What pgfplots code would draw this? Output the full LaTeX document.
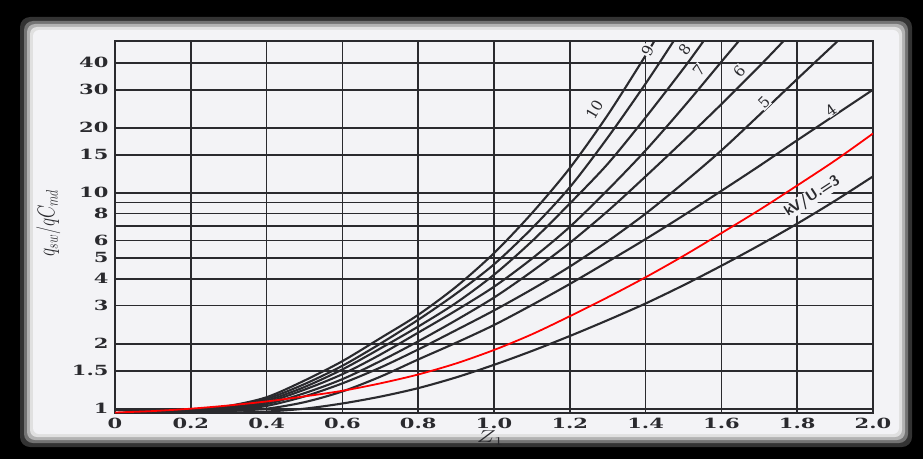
\documentclass[border=0pt]{standalone}
\usepackage{pgfplots}
\pgfplotsset{compat=1.18}
\usepackage{graphicx}
\usepackage{fontspec}
\setmainfont{DejaVu Serif}
\definecolor{paper}{RGB}{243,243,246}
\definecolor{ink}{RGB}{42,42,46}
\newcommand\sx[1]{\scalebox{1.5}[1]{\bfseries #1}}
\begin{document}
\begin{tikzpicture}[x=1pt,y=1pt]
\useasboundingbox (0,0) rectangle (923,459);
\fill[black] (0,0) rectangle (923,459);
\fill[black!80,rounded corners=10pt] (20,12) rectangle (912,442);
\fill[black!55,rounded corners=9pt] (24,16) rectangle (908,438);
\fill[black!30,rounded corners=8pt] (27,19) rectangle (905,435);
\fill[black!12,rounded corners=7pt] (30,22) rectangle (902,432);
\fill[paper,rounded corners=6pt] (33,25) rectangle (899,429);
\begin{axis}[
  at={(115pt,46pt)}, anchor=south west,
  scale only axis, width=758pt, height=372pt,
  xmin=0, xmax=2, ymode=log, ymin=0.955, ymax=50.4,
  clip mode=individual,
  xtick={0,0.2,0.4,0.6,0.8,1.0,1.2,1.4,1.6,1.8,2.0},
  xticklabels={\sx{0},\sx{0.2},\sx{0.4},\sx{0.6},\sx{0.8},\sx{1.0},\sx{1.2},\sx{1.4},\sx{1.6},\sx{1.8},\sx{2.0}},
  ytick={1,1.5,2,3,4,5,6,7,8,9,10,15,20,30,40},
  yticklabels={\sx{1},\sx{1.5},\sx{2},\sx{3},\sx{4},\sx{5},\sx{6},{},\sx{8},{},\sx{10},\sx{15},\sx{20},\sx{30},\sx{40}},
  major tick length=0pt,
  tick label style={font=\fontsize{14}{14}\selectfont, text=ink},
  yticklabel style={xshift=-3pt},
  xticklabel style={yshift=-2pt},
  grid=major,
  grid style={ink, line width=1.7pt},
  axis line style={ink, line width=2pt},
  ylabel={\scalebox{1}[1.4]{$q_{sw}/qC_{md}$}},
  ylabel style={font=\fontsize{18}{18}\selectfont, text=ink, at={(axis description cs:-0.088,0.51)}, anchor=center},
  xlabel={\sx{$Z_{1}$}},
  xlabel style={font=\fontsize{18}{18}\selectfont, text=ink, at={(axis description cs:0.495,-0.068)}, anchor=center},
]
% kV/U = 3
\addplot[ink, line width=2.1pt, smooth] coordinates {(0,0.99)(0.1,0.975)(0.2,0.965)(0.3,0.96)(0.4,0.97)(0.5,1.0)(0.6,1.057)(0.7,1.137)(0.8,1.245)(0.9,1.396)(1.0,1.596)(1.1,1.85)(1.2,2.17)(1.3,2.57)(1.4,3.07)(1.5,3.73)(1.6,4.59)(1.7,5.71)(1.8,7.19)(1.9,9.18)(2.0,11.9)};
% kV/U = 4
\addplot[ink, line width=2.1pt, smooth] coordinates {(0,0.99)(0.1,0.975)(0.2,0.966)(0.3,0.975)(0.4,1.0)(0.5,1.072)(0.6,1.202)(0.7,1.406)(0.8,1.69)(0.9,2.02)(1.0,2.44)(1.1,3.02)(1.2,3.78)(1.3,4.79)(1.4,6.1)(1.5,7.85)(1.6,10.2)(1.7,13.3)(1.8,17.5)(1.9,22.9)(2.0,30)};
% kV/U = 5
\addplot[ink, line width=2.1pt, smooth] coordinates {(0,0.99)(0.1,0.975)(0.2,0.97)(0.3,0.98)(0.4,1.03)(0.5,1.14)(0.6,1.31)(0.7,1.55)(0.8,1.88)(0.9,2.31)(1.0,2.85)(1.1,3.57)(1.2,4.55)(1.3,5.96)(1.4,8.0)(1.5,11.1)(1.6,15.7)(1.7,22.9)(1.8,33.6)(1.907,50.4)};
% kV/U = 6
\addplot[ink, line width=2.1pt, smooth] coordinates {(0,0.99)(0.1,0.975)(0.2,0.972)(0.3,0.99)(0.4,1.05)(0.5,1.18)(0.6,1.37)(0.7,1.66)(0.8,2.05)(0.9,2.57)(1.0,3.27)(1.1,4.32)(1.2,5.86)(1.3,8.22)(1.4,11.9)(1.5,17.4)(1.6,25.7)(1.7,38.5)(1.764,50.4)};
% kV/U = 7
\addplot[ink, line width=2.1pt, smooth] coordinates {(0,0.99)(0.1,0.977)(0.2,0.975)(0.3,1.0)(0.4,1.07)(0.5,1.225)(0.6,1.445)(0.7,1.78)(0.8,2.25)(0.9,2.85)(1.0,3.67)(1.1,4.95)(1.2,6.95)(1.3,10.3)(1.4,15.7)(1.5,24.9)(1.6,40.4)(1.646,50.4)};
% kV/U = 8
\addplot[ink, line width=2.1pt, smooth] coordinates {(0,0.99)(0.1,0.978)(0.2,0.978)(0.3,1.01)(0.4,1.09)(0.5,1.26)(0.6,1.52)(0.7,1.9)(0.8,2.4)(0.9,3.09)(1.0,4.17)(1.1,5.96)(1.2,8.91)(1.3,13.6)(1.4,22.3)(1.5,37.6)(1.553,50.4)};
% kV/U = 9
\addplot[ink, line width=2.1pt, smooth] coordinates {(0,0.99)(0.1,0.98)(0.2,0.98)(0.3,1.02)(0.4,1.11)(0.5,1.3)(0.6,1.58)(0.7,2.0)(0.8,2.58)(0.9,3.41)(1.0,4.66)(1.1,6.84)(1.2,10.6)(1.3,18.0)(1.4,32.0)(1.474,50.4)};
% kV/U = 10
\addplot[ink, line width=2.1pt, smooth] coordinates {(0,0.99)(0.1,0.98)(0.2,0.985)(0.3,1.03)(0.4,1.13)(0.5,1.35)(0.6,1.66)(0.7,2.12)(0.8,2.72)(0.9,3.67)(1.0,5.25)(1.1,8.04)(1.2,13.0)(1.3,22.9)(1.4,43.2)(1.423,50.4)};
% red curve
\addplot[red, line width=1.8pt, smooth] coordinates {(0,0.96)(0.1,0.975)(0.2,1.0)(0.3,1.035)(0.4,1.08)(0.5,1.14)(0.6,1.21)(0.7,1.31)(0.8,1.44)(0.9,1.62)(1.0,1.87)(1.1,2.21)(1.2,2.68)(1.3,3.28)(1.4,4.06)(1.5,5.1)(1.6,6.5)(1.7,8.32)(1.8,10.8)(1.9,14.1)(2.0,18.8)};
% curve labels
\begin{scope}[every node/.style={font=\fontsize{15}{15}\selectfont, text=ink, fill=paper, inner sep=0.6pt}]
\node[rotate=60] at (axis cs:1.265,24.2) {10};
\node[rotate=62] at (axis cs:1.405,45.5) {9};
\node[rotate=55] at (axis cs:1.503,46) {8};
\node[rotate=52] at (axis cs:1.540,37) {7};
\node[rotate=50] at (axis cs:1.647,36.5) {6};
\node[rotate=45] at (axis cs:1.712,26.1) {5};
\node[rotate=35] at (axis cs:1.889,24.2) {4};
\node[rotate=33, font=\fontsize{15}{15}\selectfont\sffamily\bfseries, inner sep=0.3pt] at (axis cs:1.84,9.6) {kV/U.=3};
\end{scope}
\end{axis}
\end{tikzpicture}
\end{document}
